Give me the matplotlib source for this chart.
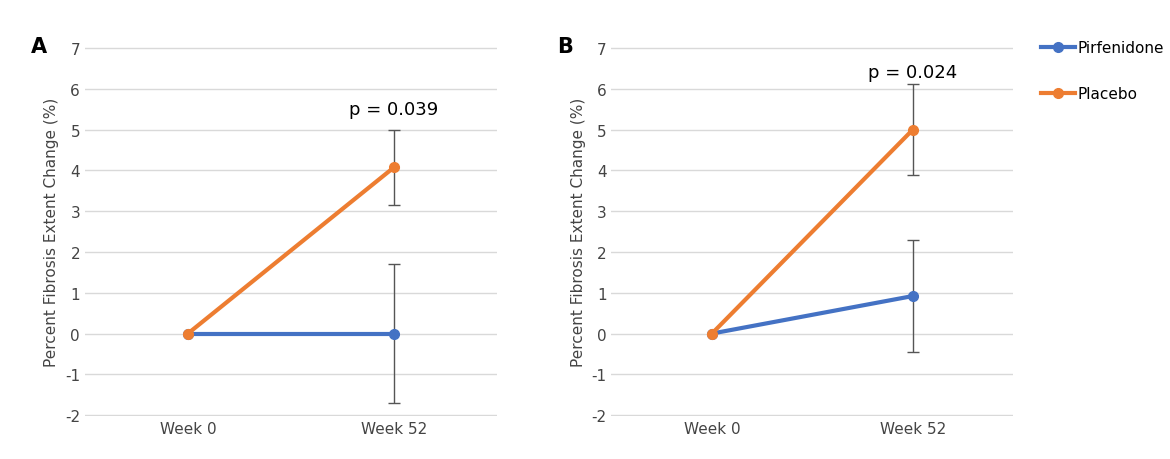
import matplotlib
matplotlib.use("Agg")
import matplotlib.pyplot as plt
from matplotlib.lines import Line2D
plt.rcParams["axes.unicode_minus"] = False

weeks = ["Week 0", "Week 52"]
a_pirf = [0, 0]; a_pirf_err = [0, 1.7]
a_plac = [0, 4.07]; a_plac_err = [0, 0.93]
b_pirf = [0, 0.92]; b_pirf_err = [0, 1.37]
b_plac = [0, 5.0]; b_plac_err = [0, 1.11]
p_vals = ["p = 0.039", "p = 0.024"]
p_y = [5.5, 6.4]

blue = "#4472C4"; orange = "#ED7D31"
fig = plt.figure(figsize=(11.7, 4.6), dpi=100)
axA = fig.add_axes([0.0726, 0.0935, 0.352, 0.802])
axB = fig.add_axes([0.5226, 0.0935, 0.3436, 0.802])
panels = [(axA, a_pirf, a_pirf_err, a_plac, a_plac_err, "A"),
          (axB, b_pirf, b_pirf_err, b_plac, b_plac_err, "B")]
x = [0, 1]
for i, (ax, pf, pfe, pl, ple, lab) in enumerate(panels):
    for vals, errs, c in [(pf, pfe, blue), (pl, ple, orange)]:
        ax.errorbar(x[1:], vals[1:], yerr=errs[1:], fmt="none", ecolor="#555555", elinewidth=1, capsize=4, capthick=1, zorder=2)
        ax.plot(x, vals, color=c, lw=3, marker="o", ms=7, zorder=3)
    ax.set_xlim(-0.5, 1.5); ax.set_ylim(-2.02, 7.02)
    ax.set_xticks(x); ax.set_xticklabels(weeks, fontsize=11, color="#444444")
    ax.set_yticks(range(-2, 8)); ax.tick_params(length=0, labelsize=11, labelcolor="#444444")
    ax.grid(axis="y", color="#D9D9D9", lw=1); ax.set_axisbelow(True)
    for s in ax.spines.values(): s.set_visible(False)
    ax.set_ylabel("Percent Fibrosis Extent Change (%)", fontsize=11, color="#444444")
    ax.text(1, p_y[i], p_vals[i], ha="center", va="center", fontsize=13)
fig.text(0.026, 0.885, "A", fontsize=15, fontweight="bold")
fig.text(0.476, 0.885, "B", fontsize=15, fontweight="bold")
handles = [Line2D([], [], color=blue, lw=3, marker="o", ms=7), Line2D([], [], color=orange, lw=3, marker="o", ms=7)]
fig.legend(handles, ["Pirfenidone", "Placebo"], loc="upper left", bbox_to_anchor=(0.878, 0.94),
           frameon=False, fontsize=11, handlelength=2.2, handletextpad=0.2, labelspacing=2.0)
fig.savefig("out.png", dpi=100)
